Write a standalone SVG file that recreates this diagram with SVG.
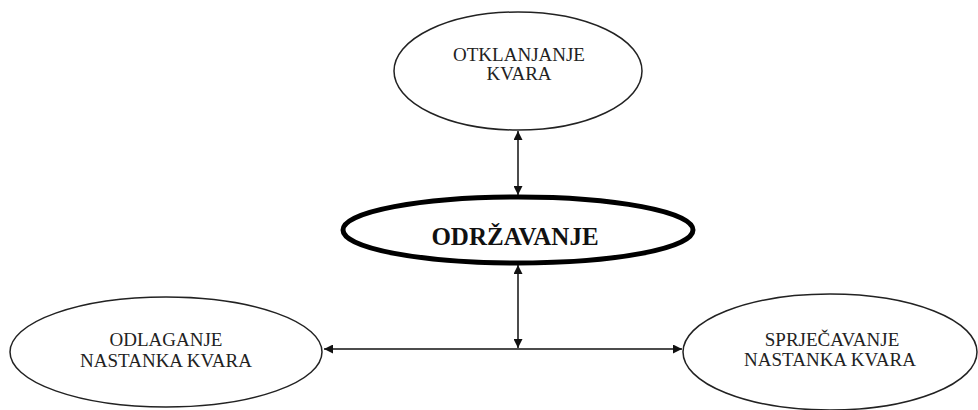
<svg xmlns="http://www.w3.org/2000/svg" width="978" height="410" viewBox="0 0 978 410">
<style>
.n{fill:#fff;stroke:#222;stroke-width:1.5}
.t{font-family:"Liberation Serif","Times New Roman",serif;font-size:19px;fill:#222;text-anchor:middle}
.c{stroke:#111;stroke-width:1.5;fill:none;marker-start:url(#a);marker-end:url(#a)}
</style>
<defs>
<marker id="a" viewBox="0 0 10 10" refX="10" refY="5" markerWidth="9" markerHeight="9" orient="auto-start-reverse" markerUnits="userSpaceOnUse">
<path d="M0,0L10,5L0,10z" fill="#111"/>
</marker>
</defs>
<g id="connectors">
<line class="c" x1="518" y1="131" x2="518" y2="195"/>
<line class="c" x1="518" y1="265" x2="518" y2="348"/>
<line class="c" x1="324" y1="349" x2="682" y2="349"/>
</g>
<g id="otklanjanje">
<ellipse class="n" cx="518" cy="71" rx="124" ry="59"/>
<text class="t" x="519" y="61">OTKLANJANJE</text>
<text class="t" x="519" y="80">KVARA</text>
</g>
<g id="odrzavanje">
<ellipse cx="518" cy="230" rx="175" ry="33" fill="#fff" stroke="#000" stroke-width="5"/>
<text x="515" y="245" font-family="Liberation Serif,'Times New Roman',serif" font-size="25" font-weight="bold" fill="#111" text-anchor="middle">ODRŽAVANJE</text>
</g>
<g id="odlaganje">
<ellipse class="n" cx="166" cy="352" rx="156" ry="55"/>
<text class="t" x="166" y="346">ODLAGANJE</text>
<text class="t" x="166" y="367">NASTANKA KVARA</text>
</g>
<g id="sprjecavanje">
<ellipse class="n" cx="830" cy="352" rx="147" ry="58"/>
<text class="t" x="832" y="346">SPRJEČAVANJE</text>
<text class="t" x="830" y="366">NASTANKA KVARA</text>
</g>
</svg>
